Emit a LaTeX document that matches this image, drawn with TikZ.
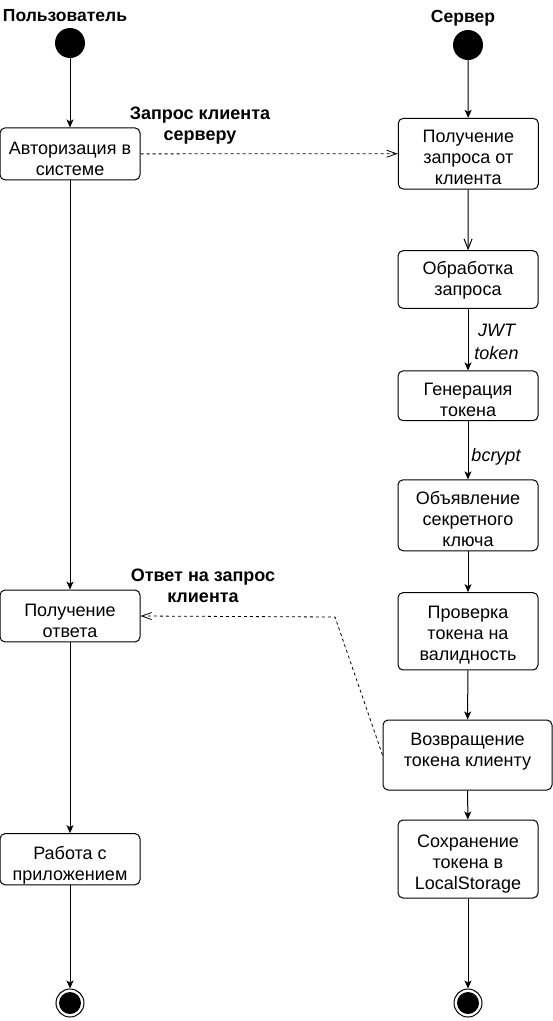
\documentclass[tikz,border=0pt]{standalone}
\usepackage{fontspec}
\setmainfont{Liberation Sans}
\usetikzlibrary{arrows.meta}
% invisible struts that set the top and bottom of a text block
\newcommand\capup[1]{\rule{0pt}{#1pt}}
\newcommand\capdn[1]{\rule[-#1pt]{0pt}{#1pt}}
\begin{document}
\begin{tikzpicture}[x=1pt,y=-1pt,
  state/.style={draw, rounded corners=5pt, line width=1pt, align=center,
    font=\fontsize{18}{21}\selectfont, inner sep=0pt, minimum width=140pt},
  startdot/.style={circle, fill=black, minimum size=30pt, inner sep=0pt},
  enddot/.style={circle, draw, line width=1pt, minimum size=28pt, inner sep=0pt,
    path picture={\fill (path picture bounding box.center) circle (11pt);}},
  title/.style={font=\fontsize{17.5}{19}\selectfont\bfseries},
  msglbl/.style={font=\fontsize{18}{21}\selectfont\bfseries, align=center},
  guard/.style={font=\fontsize{18}{23}\selectfont\itshape, align=center},
  flow/.style={line width=1pt, -{Stealth[length=8pt,width=7pt,inset=2pt]}},
  openflow/.style={line width=1pt, -{Straight Barb[length=10pt,width=8pt]}},
  msg/.style={line width=0.8pt, dash pattern=on 3pt off 3pt,
    -{Straight Barb[length=10pt,width=7pt]}}]
\useasboundingbox (0,0) rectangle (553,1021);

% swimlane titles
\node[title] (userT) at (65,15.5) {Пользователь};
\node[title] (srvT) at (463,18.5) {Сервер};

% client lane
\node[startdot] (startL) at (70,43) {};
\node[state, minimum height=46.3pt] (auth) at (70,153.9)
  {\capup{26.9}Авторизация в\\системе\capdn{4}};
\node[state, minimum height=46pt] (recv) at (70,616)
  {\capup{26.9}Получение\\ответа\capdn{4}};
\node[state, minimum height=45pt] (work) at (70,859.2)
  {\capup{26.1}Работа с\\приложением\capdn{4}};
\node[enddot] (endL) at (70,1003) {};

% server lane
\node[startdot] (startR) at (468,45) {};
\node[state, minimum height=70.7pt] (getreq) at (468.3,153.7)
  {\capup{24.1}Получение\\запроса от\\клиента\capdn{4}};
\node[state, minimum height=57.6pt] (proc) at (468,279.5)
  {\capup{14.9}Обработка\\запроса\capdn{4}};
\node[state, minimum height=48.3pt] (gen) at (468,395.8)
  {\capup{24.7}Генерация\\токена\capdn{4}};
\node[state, minimum height=69.3pt] (key) at (468,515.3)
  {\capup{24.9}Объявление\\секретного\\ключа\capdn{4}};
\node[state, minimum height=77.3pt] (check) at (468,631.3)
  {\capup{20.9}Проверка\\токена на\\валидность\capdn{4}};
\node[state, minimum height=70pt, minimum width=169pt] (ret) at (467.5,755)
  {\capup{13}Возвращение\\токена клиенту\capdn{10.7}};
\node[state, minimum height=78pt] (save) at (468,859)
  {\capup{23.9}Сохранение\\токена в\\LocalStorage\capdn{4}};
\node[enddot] (endR) at (468,1003) {};

% client transitions
\draw[flow] (startL) -- (auth);
\draw[flow] (auth) -- (recv);
\draw[flow] (recv) -- (work);
\draw[flow] (work) -- (endL);

% server transitions
\draw[flow] (startR) -- (getreq);
\draw[openflow] (getreq) -- (proc);
\draw[flow] (proc) -- (gen);
\draw[flow] (gen) -- (key);
\draw[flow] (key) -- (check);
\draw[flow] (check) -- (ret);
\draw[flow] (ret) -- (save);
\draw[flow] (save) -- (endR);

\node[guard] (jwt) at (496.5,342) {JWT\\token};
\node[guard] (bc) at (496,457) {bcrypt};

% messages between lanes
\draw[msg] (auth) -- (getreq);
\node[msglbl] (reqL) at (200,126) {Запрос клиента\\серверу};

\coordinate (bend) at (335,617);
\draw[msg] (ret.west) -- (bend) -- (recv.east);
\node[msglbl] (ansL) at (203,585.7) {Ответ на запрос\\клиента};
\end{tikzpicture}
\end{document}
